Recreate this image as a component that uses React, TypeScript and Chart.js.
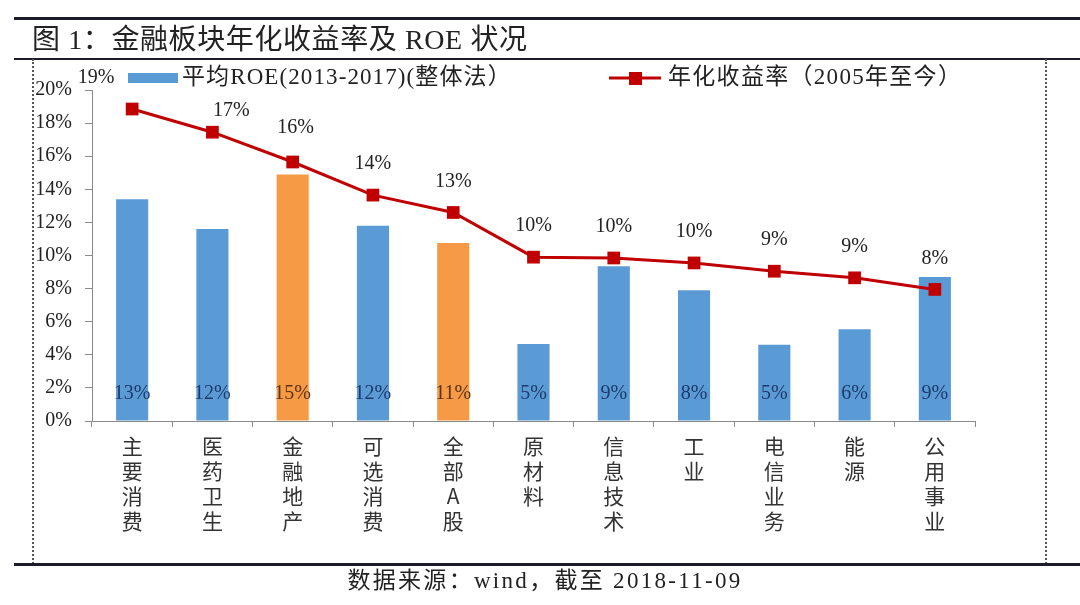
import React, { useEffect, useRef } from 'react';
import { Chart, registerables } from 'chart.js';

Chart.register(...registerables);

const categories = ['主要消费', '医药卫生', '金融地产', '可选消费', '全部A股', '原材料', '信息技术', '工业', '电信业务', '能源', '公用事业'];
const roeValues = [13.4, 11.6, 14.9, 11.8, 10.75, 4.65, 9.35, 7.9, 4.6, 5.55, 8.7];
const returnValues = [18.85, 17.45, 15.65, 13.65, 12.6, 9.9, 9.85, 9.55, 9.05, 8.65, 7.95];
const highlightedCategories = ['金融地产', '全部A股'];
const seriesNames = ['平均ROE(2013-2017)(整体法）', '年化收益率（2005年至今）'];
const yMin = 0;
const yMax = 20;
const yStep = 2;
const titleText = '图 1：金融板块年化收益率及 ROE 状况';
const sourceText = '数据来源：wind，截至 2018-11-09';

const BLUE = '#5B9BD5';
const ORANGE = '#F79A46';
const RED = '#C00000';
const SERIF = '"Liberation Serif", "Noto Sans CJK SC", serif';
const CJK = '"Noto Sans CJK SC", sans-serif';

const labelPlugin = {
  id: 'customLabels',
  afterDatasetsDraw(chart: any) {
    const ctx = chart.ctx;
    const yScale = chart.scales.y;
    ctx.save();
    const barMeta = chart.getDatasetMeta(0);
    ctx.font = `20px ${SERIF}`;
    ctx.textAlign = 'center';
    ctx.textBaseline = 'middle';
    barMeta.data.forEach((el: any, i: number) => {
      const hl = highlightedCategories.includes(categories[i]);
      ctx.fillStyle = hl ? '#5a3414' : '#1d3a6e';
      ctx.fillText(Math.round(roeValues[i]) + '%', el.x, yScale.getPixelForValue(0) - 27);
    });
    const lineMeta = chart.getDatasetMeta(1);
    ctx.fillStyle = '#222';
    lineMeta.data.forEach((el: any, i: number) => {
      let dx = 0;
      let dy = -31;
      if (i === 0) dx = -36;
      if (i === 1) { dx = 19; dy = -21; }
      if (i === 2) { dx = 3; dy = -34; }
      ctx.fillText(Math.round(returnValues[i]) + '%', el.x + dx, el.y + dy);
    });
    ctx.restore();
  },
  afterDraw(chart: any) {
    const ctx = chart.ctx;
    ctx.save();
    const ly = 78;
    ctx.fillStyle = BLUE;
    ctx.fillRect(128, ly - 5, 50, 10);
    ctx.font = `23px ${SERIF}`;
    ctx.textBaseline = 'middle';
    ctx.textAlign = 'left';
    (ctx as any).letterSpacing = '1.1px';
    ctx.fillStyle = '#222';
    ctx.fillText(chart.data.datasets[0].label, 182, ly);
    ctx.strokeStyle = RED;
    ctx.lineWidth = 3;
    ctx.beginPath();
    ctx.moveTo(609, ly);
    ctx.lineTo(661, ly);
    ctx.stroke();
    ctx.fillStyle = RED;
    ctx.fillRect(629, ly - 6, 13, 13);
    ctx.fillStyle = '#222';
    (ctx as any).letterSpacing = '1.3px';
    ctx.fillText(chart.data.datasets[1].label, 668, ly);
    ctx.restore();
  },
};

export default function App() {
  const canvasRef = useRef<HTMLCanvasElement | null>(null);

  useEffect(() => {
    if (!canvasRef.current) return;
    const chart = new Chart(canvasRef.current, {
      type: 'bar',
      data: {
        labels: categories.map((c) => c.split('')),
        datasets: [
          {
            type: 'bar',
            label: seriesNames[0],
            data: roeValues,
            backgroundColor: categories.map((c) => (highlightedCategories.includes(c) ? ORANGE : BLUE)),
            borderWidth: 0,
            barPercentage: 0.4,
            categoryPercentage: 1,
            order: 2,
          },
          {
            type: 'line',
            label: seriesNames[1],
            data: returnValues,
            borderColor: RED,
            backgroundColor: RED,
            borderWidth: 3,
            pointStyle: 'rect',
            pointRadius: 9,
            pointBackgroundColor: RED,
            pointBorderWidth: 0,
            tension: 0,
            order: 1,
          } as any,
        ],
      },
      options: {
        animation: false,
        responsive: false,
        maintainAspectRatio: false,
        layout: { padding: { top: 90, right: 105, left: 0, bottom: 0 } },
        plugins: {
          legend: { display: false },
          tooltip: { enabled: false },
          title: { display: false },
        },
        scales: {
          x: {
            offset: true,
            grid: {
              display: true,
              offset: true,
              drawOnChartArea: false,
              drawTicks: true,
              tickLength: 6,
              color: '#8a8a8a',
            },
            border: { display: true, color: '#8a8a8a', width: 1 },
            ticks: {
              color: '#333',
              font: { family: CJK, size: 21, lineHeight: 1.18 },
              padding: 7,
              maxRotation: 0,
              autoSkip: false,
            },
            afterFit: (s: any) => {
              s.height = 605 - 421;
            },
          },
          y: {
            min: yMin,
            max: yMax,
            grid: {
              display: true,
              drawOnChartArea: false,
              drawTicks: true,
              tickLength: 7,
              color: '#8a8a8a',
            },
            border: { display: true, color: '#8a8a8a', width: 1 },
            ticks: {
              stepSize: yStep,
              color: '#222',
              font: { family: SERIF, size: 20 },
              padding: 13,
              callback: (v: any) => v + '%',
            },
            afterFit: (s: any) => {
              s.width = 92;
            },
          },
        },
      },
      plugins: [labelPlugin],
    });
    return () => chart.destroy();
  }, []);

  return (
    <div style={{ position: 'fixed', left: 0, top: 0, width: 1080, height: 605, background: '#fff', overflow: 'hidden' }}>
      <canvas ref={canvasRef} width={1080} height={605} style={{ position: 'absolute', left: 0, top: 0, width: 1080, height: 605 }} />
      <div style={{ position: 'absolute', left: 14, right: 0, top: 17, height: 3, background: '#1c1c28' }} />
      <div
        style={{
          position: 'absolute',
          left: 32,
          top: 22,
          height: 36,
          lineHeight: '36px',
          fontSize: 28,
          letterSpacing: 0.6,
          fontFamily: SERIF,
          color: '#222',
          whiteSpace: 'pre',
        }}
      >
        {titleText}
      </div>
      <div style={{ position: 'absolute', left: 14, right: 0, top: 58, height: 2, background: '#1c1c28' }} />
      <div style={{ position: 'absolute', left: 32, top: 59, height: 505, borderLeft: '2px dotted #555' }} />
      <div style={{ position: 'absolute', left: 1045, top: 59, height: 505, borderLeft: '2px dotted #555' }} />
      <div style={{ position: 'absolute', left: 14, right: 0, top: 563, height: 3, background: '#1c1c28' }} />
      <div
        style={{
          position: 'absolute',
          left: 0,
          width: 1090,
          top: 567,
          height: 28,
          lineHeight: '28px',
          textAlign: 'center',
          fontSize: 23,
          letterSpacing: 2.3,
          fontFamily: SERIF,
          color: '#222',
          whiteSpace: 'pre',
        }}
      >
        {sourceText}
      </div>
    </div>
  );
}
